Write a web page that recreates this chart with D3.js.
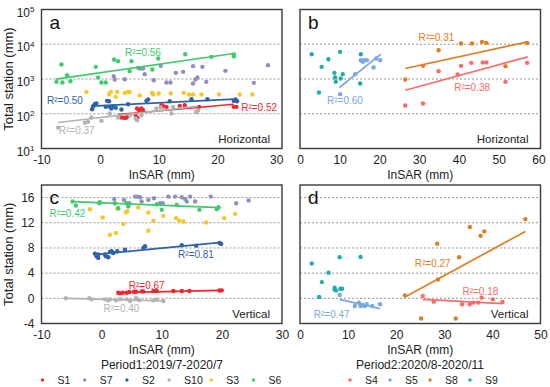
<!DOCTYPE html>
<html>
<head>
<meta charset="utf-8">
<title>InSAR vs total station</title>
<script src="https://cdnjs.cloudflare.com/ajax/libs/d3/7.8.5/d3.min.js"></script>
<style>
  body { margin: 0; background: #fff; }
  text { font-family: Arial, "Liberation Sans", sans-serif; }
</style>
</head>
<body>
<svg id="chart" width="550" height="387"></svg>
<script>
// ---- data : [InSAR, total station] ----
// panel a : period 1, horizontal
var a_S6 = [[-6.6,2612],[-7.45,828],[-6.43,792],[-5.64,1288],[-5.07,865],[-0.75,2240],[-0.35,1105],[0.22,792],[0.95,792],[2.38,3640],[3.06,3260],[5.05,1680],[5.33,3260],[6.75,2000],[9.9,3880],[8.9,1875],[14.5,5175],[18.97,4340],[22.8,5060],[22.8,4530]];
var a_S7 = [[2.32,1205],[2.49,966],[4.19,988],[6.47,2094],[7.32,2004],[7.6,1377],[9.14,925],[10.33,2390],[11.3,792],[11.98,792],[12.9,1504],[14.14,1607],[15.84,2340],[15.84,742],[16.24,966],[16.58,1104],[17.43,2240],[18.1,828],[21.35,1715],[26.2,774],[28.6,2500]];
var a_S3 = [[-2.34,427],[1.52,357],[1.81,427],[2.66,306],[2.89,427],[4.19,399],[4.76,427],[5.05,427],[6.75,335],[8.85,399],[9.02,357],[9.99,382],[12.03,382],[14.25,399],[15.16,357],[15.84,357],[17.26,357],[20.27,357],[23.8,357],[25.95,357]];
var a_S2 = [[-1.375,135],[-1.2,165],[-0.92,188],[-0.64,197],[1.18,235],[1.52,230],[0.95,158],[1.64,158],[1.92,141],[2.2,165],[2.66,148],[3.63,132],[4.76,188],[7.89,235],[8.17,257],[11.86,230],[15.56,262],[18.28,262],[22.77,235],[23.1,257],[23.34,230]];
var a_S1 = [[3.06,81.5],[3.63,78],[4.19,76],[4.48,78],[4.76,87],[6.3,141],[6.64,127],[7.03,141],[7.32,127],[6.07,87],[6.35,76],[10.44,176],[10.73,165],[11.3,158],[13.57,169],[14.42,176],[16.86,158],[22.77,158],[23.23,158]];
var a_S10 = [[-7.17,40],[-2.6,55],[-2.06,58.5],[-1.49,78],[0.22,62.5],[1.64,102],[3.06,78],[5.05,91],[6.07,73],[6.3,65],[7.03,91],[9.59,141],[10.33,151],[12.15,102],[12.43,158],[16.4,113],[16.7,127]];

// panel b : period 2, horizontal
var b_S9 = [[2.94,5175],[4.79,408],[5.46,2240],[7.14,3715],[8.66,1504],[8.82,1104],[8.99,828],[10.09,6040],[10.25,1033],[10.76,1377],[15.3,5175],[15.13,742]];
var b_S5 = [[10.09,366],[13.87,1377],[15.3,3475],[15.8,3113],[16.14,3475],[16.81,3475],[18.49,2138],[19.16,3880],[20.17,3475]];
var b_S8 = [[26.47,966],[30.93,2390],[34.87,6745],[40.5,10500],[43.28,10500],[45.8,11720],[46.89,10970],[51.68,2340],[57.14,10970]];
var b_S4 = [[26.47,173],[30.93,197],[34.87,1680],[39.66,1346],[40.5,2390],[43.1,2916],[45.97,2980],[46.89,2980],[51.68,828],[57.14,2916]];

// panel c : period 1, vertical
var c_S7 = [[2.1,15.79],[3.72,15.63],[4.6,15.1],[5.55,16.16],[5.94,16.16],[6.38,16.05],[6.66,15.37],[7.77,15.63],[8.72,15.9],[9.72,15.1],[10.16,15.1],[11.1,16.16],[12.22,16.16],[13.33,16.05],[13.88,15.79],[14.16,15.37],[14.72,16.16],[15.55,15.37],[18.16,16.16],[22.38,15.1],[24.44,15.53]];
var c_S3 = [[-1.95,14.16],[0.16,12.84],[1.38,10.1],[2.38,10.37],[2.6,14.21],[3.6,11.79],[4.05,13.68],[4.27,13.79],[6.1,14.42],[7.77,13.63],[7.77,10.74],[8.61,12.32],[10.27,13.1],[12.38,12.74],[12.94,12.32],[13.6,12.21],[17.38,12.05],[20.38,12.74],[22.22,13.42]];
var c_S6 = [[-4.84,15.37],[-4.28,14.74],[-0.39,15.1],[-0.28,15.26],[2.22,15.1],[2.77,14.3],[4.16,15.1],[4.44,14.58],[9.16,14.95],[9.99,14.05],[12.49,14.84],[16.27,14.05],[19.16,14.16],[19.44,14.47]];
var c_S2 = [[-1.12,7.1],[-0.84,6.68],[-0.56,6.42],[-0.56,6.95],[0.55,6.95],[0.72,6.68],[1.11,6.53],[1.38,7.37],[1.66,7.47],[1.94,7.21],[2.6,7.47],[3.88,7.74],[6.94,8.0],[7.22,8.26],[13.33,8.42],[15.72,8.37],[19.6,8.79],[19.88,8.63]];
var c_S1 = [[2.77,0.89],[3.05,0.79],[3.49,0.89],[4.16,0.89],[4.6,1.0],[5.38,1.05],[5.72,1.05],[6.66,1.1],[6.94,1.1],[8.61,1.16],[9.16,1.16],[11.94,1.16],[13.33,1.16],[14.61,1.16],[19.6,1.26],[19.99,1.26]];
var c_S10 = [[-5.95,0],[-2.06,0],[-1.67,-0.16],[0.55,-0.16],[1.11,-0.32],[1.38,-0.16],[2.38,-0.32],[3.05,-0.16],[4.16,-0.16],[4.72,-0.42],[5.72,0],[6.27,-0.32],[8.61,-0.32],[9.16,-0.16],[10.27,-0.42]];

// panel d : period 2, vertical
var d_S9 = [[2.45,5.53],[3.99,0.21],[4.55,2.58],[5.94,4.05],[7.2,1.68],[7.2,1.42],[7.48,1.26],[8.25,6.53],[8.39,1.53],[8.74,1.53],[12.59,6.58]];
var d_S5 = [[8.25,0.53],[11.4,-1.21],[12.24,-0.68],[12.59,-1.21],[12.94,-1.05],[13.43,-1.21],[13.85,-0.95],[15.03,-1.21],[16.64,-0.95]];
var d_S8 = [[21.82,0.47],[25.17,-3.21],[28.53,8.68],[28.67,3.0],[32.38,-3.21],[33.08,6.53],[35.31,11.32],[37.55,9.95],[38.32,10.63],[46.85,12.58]];
var d_S4 = [[25.52,0.37],[27.83,-0.53],[33.71,-0.95],[35.31,-0.95],[36.01,-0.68],[37.06,-0.68],[37.76,0.1],[40.07,-0.16],[42.1,-0.58]];

// fitted lines : [station, x start, y start, x end, y end]
var a_fits = [["S6",-7.57,989,22.77,5410],["S2",-1.375,165,22.77,262],["S1",3.06,95,22.77,188],["S10",-7.17,56,16.7,165]];
var b_fits = [["S5",9.92,569,20.34,5175],["S8",26.47,2004,57.31,11720],["S4",26.47,476,57.31,4340]];
var c_fits = [["S6",-4.84,15.37,19.72,14.42],["S2",-1.12,6.95,19.88,8.89],["S1",2.77,0.89,19.99,1.26],["S10",-5.95,0,10.27,-0.42]];
var d_fits = [["S5",8.25,-0.16,16.64,-1.63],["S8",21.82,0.21,46.85,10.63],["S4",25.52,-0.16,42.1,-0.84]];

// R² values
var a_r2 = [["S6",0.56],["S2",0.50],["S1",0.52],["S10",0.37]];
var b_r2 = [["S5",0.60],["S8",0.31],["S4",0.38]];
var c_r2 = [["S6",0.42],["S2",0.81],["S1",0.67],["S10",0.40]];
var d_r2 = [["S5",0.47],["S8",0.27],["S4",0.18]];

// ticks
var xTicksA = [-10, 0, 10, 20, 30];
var xTicksB = [0, 10, 20, 30, 40, 50, 60];
var xTicksD = [0, 10, 20, 30, 40, 50];
var yTicksLog = [10, 100, 1000, 10000, 100000];
var yTicksLin = [-4, 0, 4, 8, 12, 16];

var legend1 = ["S1", "S7", "S2", "S10", "S3", "S6"];
var legend2 = ["S4", "S5", "S8", "S9"];

var colors = {
	S1: "#f2262b", S7: "#8f8fc2", S2: "#2f62a9", S10: "#b3b3b3", S3: "#f7c526", S6: "#3fca6c",
	S4: "#fd6a6a", S5: "#7aa8e0", S8: "#df7d22", S9: "#21aea5"
};

// where each R² label sits (data units)
var a_lab = {S6:[7.3,5640], S2:[-6.0,234], S1:[27.1,154], S10:[-4.0,33.6]};
var b_lab = {S5:[11.3,245], S8:[34.3,15600], S4:[43.3,569]};
var c_lab = {S6:[-5.7,13.43], S2:[15.7,6.95], S1:[7.5,2.1], S10:[3.3,-1.58]};
var d_lab = {S5:[6.6,-2.53], S8:[27.6,5.48], S4:[37.5,1.06]};

var svg = d3.select("#chart");

function drawPanel(p) {
	var g = svg.append("g");
	var x = d3.scaleLinear().domain(p.xDomain).range([p.left, p.right]);
	var y = (p.log ? d3.scaleLog() : d3.scaleLinear()).domain(p.yDomain).range([p.bottom, p.top]);

	// dotted grid
	g.selectAll("line.grid").data(p.grid).enter().append("line")
		.attr("x1", p.left).attr("x2", p.right)
		.attr("y1", function(d) { return y(d); })
		.attr("y2", function(d) { return y(d); })
		.attr("stroke", "#8a8a8a").attr("stroke-width", 0.9)
		.attr("stroke-dasharray", "2,2");

	// points
	p.series.forEach(function(s) {
		g.append("g").selectAll("circle").data(s[1]).enter().append("circle")
			.attr("cx", function(d) { return x(d[0]); })
			.attr("cy", function(d) { return y(d[1]); })
			.attr("r", 2.2)
			.attr("fill", colors[s[0]]);
	});

	// fitted lines
	g.selectAll("line.fit").data(p.fits).enter().append("line")
		.attr("x1", function(d) { return x(d[1]); })
		.attr("y1", function(d) { return y(d[2]); })
		.attr("x2", function(d) { return x(d[3]); })
		.attr("y2", function(d) { return y(d[4]); })
		.attr("stroke", function(d) { return colors[d[0]]; })
		.attr("stroke-width", 1.7);

	// R² labels
	g.selectAll("text.r2").data(p.r2).enter().append("text")
		.attr("x", function(d) { return x(p.lab[d[0]][0]); })
		.attr("y", function(d) { return y(p.lab[d[0]][1]); })
		.attr("dy", "0.35em")
		.attr("text-anchor", "middle")
		.attr("font-size", 10)
		.attr("fill", function(d) { return colors[d[0]]; })
		.text(function(d) { return "R\u00b2=" + d[1].toFixed(2); });

	// frame
	g.append("rect")
		.attr("x", p.left).attr("y", p.top)
		.attr("width", p.right - p.left).attr("height", p.bottom - p.top)
		.attr("fill", "none").attr("stroke", "#3a3a3a").attr("stroke-width", 1.4);

	// x axis
	var xa = g.append("g").attr("transform", "translate(0," + p.bottom + ")")
		.call(d3.axisBottom(x).tickValues(p.xTicks).tickSize(0).tickPadding(7).tickFormat(function(d) { return d < 0 ? "-" + Math.abs(d) : d; }));
	xa.select(".domain").remove();
	xa.attr("font-family", null).attr("font-size", null);
	xa.selectAll("text").attr("font-size", 12).attr("fill", "#222");

	g.append("text")
		.attr("x", (p.left + p.right) / 2).attr("y", p.bottom + 30)
		.attr("text-anchor", "middle").attr("font-size", 12).attr("fill", "#222")
		.text("InSAR (mm)");

	// y axis only on the left column
	if (p.yTicks) {
		var ya = g.append("g").attr("transform", "translate(" + p.left + ",0)")
			.call(d3.axisLeft(y).tickValues(p.yTicks).tickSize(0).tickPadding(7));
		ya.select(".domain").remove();
		ya.attr("font-family", null).attr("font-size", null);
		ya.selectAll("text").attr("font-size", 12).attr("fill", "#222");
		if (p.log) {
			ya.selectAll(".tick text").each(function(d) {
				var t = d3.select(this).text("").attr("dy", "0.55em");
				t.append("tspan").text("10");
				t.append("tspan").attr("dy", "-0.6em").attr("font-size", 8).text(Math.round(Math.log10(d)));
			});
		} else {
			ya.selectAll(".tick text").text(function(d) { return d < 0 ? "-" + Math.abs(d) : d; });
		}
		g.append("text")
			.attr("transform", "translate(13," + ((p.top + p.bottom) / 2) + ") rotate(-90)")
			.attr("text-anchor", "middle").attr("font-size", 13).attr("fill", "#222")
			.text("Total station (mm)");
	}

	// panel letter and direction
	g.append("text").attr("x", p.left + 8).attr("y", p.top + 19)
		.attr("font-size", 19).attr("fill", "#111").text(p.letter);
	g.append("text").attr("x", p.right - 12).attr("y", p.bottom - 6)
		.attr("text-anchor", "end").attr("font-size", 11.5).attr("fill", "#222").text(p.dir);
}

drawPanel({ letter: "a", dir: "Horizontal", left: 41.5, right: 282, top: 9.5, bottom: 148.5,
	xDomain: [-10, 31], yDomain: [10, 100000], log: true, xTicks: xTicksA, yTicks: yTicksLog,
	grid: [100, 1000, 10000],
	series: [["S6", a_S6], ["S7", a_S7], ["S3", a_S3], ["S2", a_S2], ["S1", a_S1], ["S10", a_S10]],
	fits: a_fits, r2: a_r2, lab: a_lab });

drawPanel({ letter: "b", dir: "Horizontal", left: 300, right: 540.5, top: 9.5, bottom: 148.5,
	xDomain: [0, 60.5], yDomain: [10, 100000], log: true, xTicks: xTicksB,
	grid: [100, 1000, 10000],
	series: [["S9", b_S9], ["S5", b_S5], ["S8", b_S8], ["S4", b_S4]],
	fits: b_fits, r2: b_r2, lab: b_lab });

drawPanel({ letter: "c", dir: "Vertical", left: 41.5, right: 282, top: 185, bottom: 323.5,
	xDomain: [-10, 30], yDomain: [-4, 18], log: false, xTicks: xTicksA, yTicks: yTicksLin,
	grid: [0, 4, 8, 12, 16],
	series: [["S7", c_S7], ["S3", c_S3], ["S6", c_S6], ["S2", c_S2], ["S1", c_S1], ["S10", c_S10]],
	fits: c_fits, r2: c_r2, lab: c_lab });

drawPanel({ letter: "d", dir: "Vertical", left: 300, right: 540.5, top: 185, bottom: 323.5,
	xDomain: [0, 50], yDomain: [-4, 18], log: false, xTicks: xTicksD,
	grid: [0, 4, 8, 12, 16],
	series: [["S9", d_S9], ["S5", d_S5], ["S8", d_S8], ["S4", d_S4]],
	fits: d_fits, r2: d_r2, lab: d_lab });

// period titles
svg.append("text").attr("x", 162).attr("y", 369).attr("text-anchor", "middle")
	.attr("font-size", 12).attr("fill", "#222").text("Period1:2019/7-2020/7");
svg.append("text").attr("x", 420).attr("y", 369).attr("text-anchor", "middle")
	.attr("font-size", 12).attr("fill", "#222").text("Period2:2020/8-2020/11");

// legends
function legend(names, x0, step, yPos) {
	var lg = svg.append("g");
	var item = lg.selectAll("g").data(names).enter().append("g")
		.attr("transform", function(d, i) { return "translate(" + (x0 + i * step) + "," + yPos + ")"; });
	item.append("circle").attr("r", 1.7).attr("fill", function(d) { return colors[d]; });
	item.append("text").attr("x", 15).attr("dy", "0.35em")
		.attr("font-size", 10.5).attr("fill", "#222").text(function(d) { return d; });
}
legend(legend1, 42.5, 42.2, 380);
legend(legend2, 350, 40, 380);
</script>
</body>
</html>
